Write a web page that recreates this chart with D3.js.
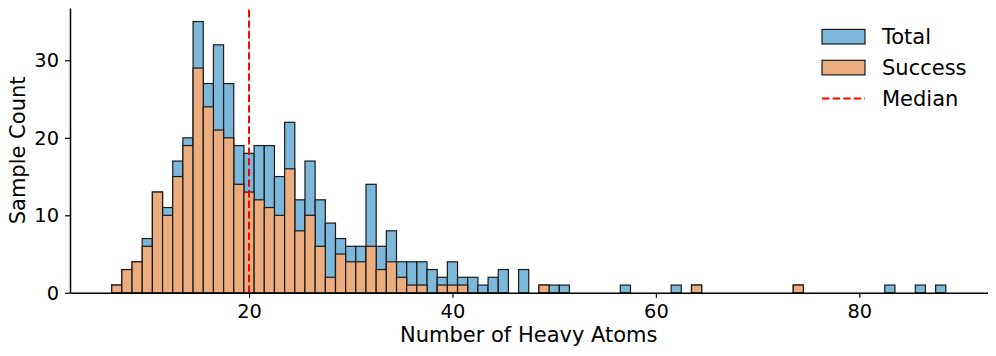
<!DOCTYPE html>
<html>
<head>
<meta charset="utf-8">
<script src="https://cdn.jsdelivr.net/npm/d3@7"></script>
<style>
  body { margin: 0; background: #fff; }
  svg text { font-family: "DejaVu Sans", sans-serif; fill: #000; }
</style>
</head>
<body>
<div id="chart"></div>
<script>
// heavy atom counts (bin centre, width 1)
var atoms   = [7, 8, 9, 10, 11, 12, 13, 14, 15, 16, 17, 18, 19, 20, 21, 22, 23, 24, 25, 26, 27, 28, 29, 30, 31, 32, 33, 34, 35, 36, 37, 38, 39, 40, 41, 42, 43, 44, 45, 47, 49, 50, 51, 57, 62, 64, 74, 83, 86, 88];
var total   = [1, 3, 4, 7, 13, 11, 17, 20, 35, 27, 32, 27, 19, 18, 19, 19, 15, 22, 12, 17, 12, 9, 7, 6, 6, 14, 6, 8, 4, 4, 4, 3, 2, 4, 2, 2, 1, 2, 3, 3, 1, 1, 1, 1, 1, 1, 1, 1, 1, 1];
var success = [1, 3, 4, 6, 13, 10, 15, 19, 29, 24, 21, 20, 14, 13, 12, 11, 10, 16, 8, 10, 6, 2, 5, 4, 4, 6, 3, 4, 2, 1, 1, 0, 1, 1, 1, 0, 0, 0, 0, 0, 1, 0, 0, 0, 0, 1, 1, 0, 0, 0];
var median = 20;
var xTicks = [20, 40, 60, 80];
var yTicks = [0, 10, 20, 30];
var legendItems = ["Total", "Success", "Median"];

var width = 996, height = 356;
var margin = { top: 8, right: 8.5, bottom: 63.2, left: 70 };

var blue = "#7db7d9", orange = "#ebad7d";

var x = d3.scaleLinear().domain([2.4, 92.6]).range([margin.left, width - margin.right]);
var y = d3.scaleLinear().domain([0, 36.75]).range([height - margin.bottom, margin.top]);

var svg = d3.select("#chart").append("svg")
  .attr("width", width)
  .attr("height", height);

var totalData = atoms.map(function (a, i) { return { a: a, v: total[i] }; }).filter(d => d.v > 0);
var successData = atoms.map(function (a, i) { return { a: a, v: success[i] }; }).filter(d => d.v > 0);

function drawBars(cls, data, color) {
  svg.append("g").attr("class", cls)
    .selectAll("rect")
    .data(data)
    .join("rect")
    .attr("x", d => x(d.a - 0.5))
    .attr("width", d => x(d.a + 0.5) - x(d.a - 0.5))
    .attr("y", d => y(d.v))
    .attr("height", d => y(0) - y(d.v))
    .attr("fill", color)
    .attr("stroke", "#1a1a1a")
    .attr("stroke-width", 1.2);
}
drawBars("total", totalData, blue);
drawBars("success", successData, orange);

// median line
svg.append("line")
  .attr("x1", x(median)).attr("x2", x(median))
  .attr("y1", y(0)).attr("y2", margin.top)
  .attr("stroke", "#ff0000")
  .attr("stroke-width", 2)
  .attr("stroke-dasharray", "7.4,3.2");

// axes
function xAxis(g) {
  g.attr("transform", `translate(0, ${y(0)})`)
    .call(d3.axisBottom(x).tickValues(xTicks).tickSize(5).tickPadding(6).tickSizeOuter(0));
}
function yAxis(g) {
  g.attr("transform", `translate(${margin.left}, 0)`)
    .call(d3.axisLeft(y).tickValues(yTicks).tickSize(5).tickPadding(6).tickSizeOuter(0));
}
var gx = svg.append("g").call(xAxis);
var gy = svg.append("g").call(yAxis);
[gx, gy].forEach(function (g) {
  g.select(".domain").attr("stroke", "#000").attr("stroke-width", 1.5);
  g.selectAll(".tick line").attr("stroke", "#000").attr("stroke-width", 1.2);
  g.selectAll(".tick text").style("font-size", "19.4px").style("font-family", "DejaVu Sans");
});

svg.append("text")
  .attr("x", (margin.left + width - margin.right) / 2)
  .attr("y", 341.5)
  .attr("text-anchor", "middle")
  .style("font-size", "21px")
  .text("Number of Heavy Atoms");

svg.append("text")
  .attr("transform", `translate(25, ${(margin.top + y(0)) / 2}) rotate(-90)`)
  .attr("text-anchor", "middle")
  .style("font-size", "21px")
  .text("Sample Count");

// legend
var legend = svg.append("g").attr("class", "legend");
var rowY = [36.7, 67.6, 98.6];
legendItems.forEach(function (name, i) {
  var cy = rowY[i];
  if (i < 2) {
    legend.append("rect")
      .attr("x", 822).attr("y", cy - 7.3)
      .attr("width", 43).attr("height", 14.6)
      .attr("fill", i === 0 ? blue : orange)
      .attr("stroke", "#1a1a1a").attr("stroke-width", 1.2);
  } else {
    legend.append("line")
      .attr("x1", 822).attr("x2", 865)
      .attr("y1", cy).attr("y2", cy)
      .attr("stroke", "#ff0000").attr("stroke-width", 2)
      .attr("stroke-dasharray", "7.4,3.2");
  }
  legend.append("text")
    .attr("x", 882).attr("y", cy + 7.5)
    .style("font-size", "21px")
    .text(name);
});
</script>
</body>
</html>
